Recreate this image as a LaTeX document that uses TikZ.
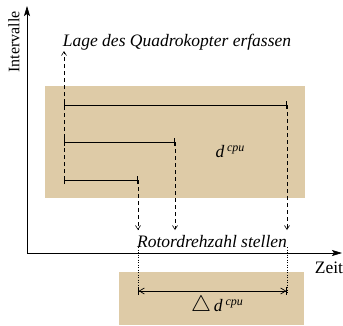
\documentclass[tikz,border=0pt]{standalone}
\usepackage{fontspec}
\setmainfont{Liberation Serif}
\usetikzlibrary{arrows.meta}
\definecolor{tanbox}{RGB}{222,203,167}
\tikzset{
  box/.style={fill=tanbox, draw=none},
  axis/.style={line width=0.7pt, -{Stealth[length=10pt,width=6pt,inset=2pt]}},
  bar/.style={line width=0.7pt, {Bar[width=8pt]}-{Bar[width=8pt]}},
  dasharrow/.style={line width=0.6pt, dash pattern=on 4pt off 3pt, -{Straight Barb[length=4pt,width=5pt]}},
  dotline/.style={line width=0.5pt, dotted},
  lbl/.style={inner sep=0pt, font=\fontsize{16}{18}\selectfont},
  ilbl/.style={inner sep=0pt, font=\fontsize{17.5}{20}\selectfont\itshape},
}
\begin{document}
\begin{tikzpicture}[x=1pt,y=-1pt]
\useasboundingbox (0,0) rectangle (343,325);
% boxes
\node[box, minimum width=260pt, minimum height=112pt, anchor=north west, inner sep=0pt] (topbox) at (45,86) {};
\node[box, minimum width=185pt, minimum height=53pt, anchor=north west, inner sep=0pt] (botbox) at (119,272) {};
% axes
\coordinate (O) at (27,253);
\coordinate (ytop) at (27,6);
\coordinate (xend) at (342,253);
\draw[axis] (O) -- (ytop);
\draw[axis] (O) -- (xend);
\node[lbl, rotate=90] (ylab) at (14,42) {Intervalle};
\node[lbl, font=\fontsize{17.5}{20}\selectfont] (xlab) at (329,268) {Zeit};
% bars
\coordinate (l1) at (64,105); \coordinate (r1) at (287,105);
\coordinate (l2) at (64,142); \coordinate (r2) at (175,142);
\coordinate (l3) at (64,180); \coordinate (r3) at (138,180);
\draw[bar] (l1) -- (r1);
\draw[bar] (l2) -- (r2);
\draw[bar] (l3) -- (r3);
\node[ilbl] (dcpu) at (230,152) {d\,\raisebox{6pt}{\fontsize{12}{13}\selectfont cpu}};
% labels
\node[ilbl] (lage) at (177,42) {Lage des Quadrokopter erfassen};
\node[ilbl] (rotor) at (212,242) {Rotordrehzahl stellen};
% dashed arrows
\coordinate (upend) at (64,51);
\draw[dasharrow] (l3) -- (upend);
\coordinate (d1) at (138,230); \coordinate (d2) at (175,230); \coordinate (d3) at (287,230);
\draw[dasharrow] (r3) -- (d1);
\draw[dasharrow] (r2) -- (d2);
\draw[dasharrow] (r1) -- (d3);
% dotted lines and delta arrow
\coordinate (p1) at (138,247); \coordinate (q1) at (138,293);
\coordinate (p2) at (287,247); \coordinate (q2) at (287,293);
\draw[dotline] (p1) -- (q1);
\draw[dotline] (p2) -- (q2);
\coordinate (a1) at (138,291); \coordinate (a2) at (287,291);
\draw[line width=0.7pt, {Bar[width=8pt]Straight Barb[length=5pt,width=6pt]}-{Straight Barb[length=5pt,width=6pt]Bar[width=8pt]}] (a1) -- (a2);
\node[ilbl] (delta) at (217,306) {\scalebox{1.3}{$\triangle$}\,d\,\raisebox{6pt}{\fontsize{12}{13}\selectfont cpu}};
\end{tikzpicture}
\end{document}
